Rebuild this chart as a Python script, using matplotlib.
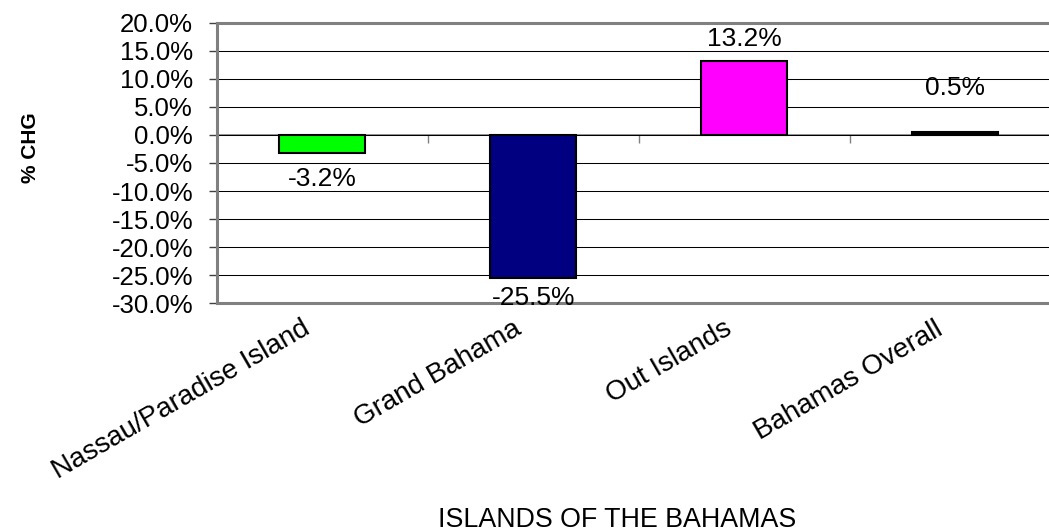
import numpy as np
import matplotlib
matplotlib.use('Agg')
import matplotlib.pyplot as plt
import matplotlib.transforms as mtransforms

islands = ['Nassau/Paradise Island', 'Grand Bahama', 'Out Islands', 'Bahamas Overall']
pct_chg = [-3.2, -25.5, 13.2, 0.5]
bar_colors = ['#00FF00', '#000080', '#FF00FF', '#000000']
label_nudge = [-19, -14.5, 16, 32]   # points, where the data labels sit

plt.rcParams['font.family'] = ['Liberation Sans', 'DejaVu Sans']

fig = plt.figure(figsize=(10.49, 5.31), dpi=100)
# plot area runs off the right edge like in the original
ax = fig.add_axes([0.2066, 0.4288, 0.8046, 0.5285])

x = np.arange(len(islands))
ax.bar(x, pct_chg, width=0.406, color=bar_colors, edgecolor='black',
       linewidth=1.5, zorder=3)

ax.set_xlim(-0.5, 3.5)
ax.set_ylim(-30, 20)
yt = np.arange(-30, 21, 5)
ax.set_yticks(yt)
ax.set_yticklabels([f'{v:.1f}%' for v in yt], fontsize=18.5)
ax.yaxis.grid(True, color='black', lw=0.75)
ax.set_axisbelow(True)

for s in ['left', 'top', 'bottom']:
    ax.spines[s].set_color('#808080')
    ax.spines[s].set_linewidth(2.2)
ax.spines['right'].set_visible(False)
ax.tick_params(axis='y', length=6, width=1, color='#404040', pad=11)

ax.set_xticks(x)
ax.set_xticklabels(islands, rotation=30, ha='right', fontsize=20)
ax.tick_params(axis='x', length=0, pad=9)
shift = mtransforms.ScaledTranslation(-8 / 100, 0, fig.dpi_scale_trans)
for lab in ax.get_xticklabels():
    lab.set_transform(lab.get_transform() + shift)

# category axis crossing at zero
sec = ax.secondary_xaxis(0, transform=ax.transData)
sec.set_xticks(np.arange(-0.5, 4, 1))
sec.set_xticklabels([])
sec.tick_params(direction='out', length=6, width=1, color='#808080')
sec.spines['bottom'].set_color('#808080')
sec.spines['bottom'].set_linewidth(1.2)

for xi, v, off in zip(x, pct_chg, label_nudge):
    ax.annotate(f'{v:.1f}%', (xi, v), xytext=(0, off), textcoords='offset points',
                ha='center', va='center', fontsize=19, zorder=4)

fig.text(0.0286, 0.721, '% CHG', rotation=90, fontweight='bold', fontsize=15,
         ha='center', va='center')
fig.text(0.588, 0.0207, 'ISLANDS OF THE BAHAMAS', ha='center', va='center',
         fontsize=19.3)

fig.savefig('out.png', dpi=100)
